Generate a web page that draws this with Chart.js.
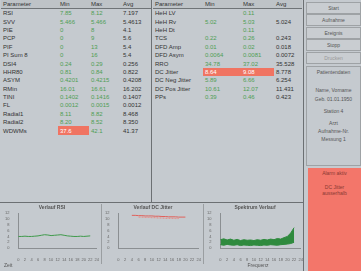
<!DOCTYPE html>
<html>
<head>
<meta charset="utf-8">
<script src="https://cdn.jsdelivr.net/npm/chart.js@4"></script>
<style>
  body { margin: 0; background: #c5cacf; font-family: "Liberation Sans", Arial, sans-serif; }
  #wrap { position: relative; width: 361px; height: 271px; overflow: hidden; background: #c5cacf; }
  .tbl { position: absolute; top: 0; border-collapse: collapse; font-size: 6px; color: #333; table-layout: fixed; }
  .tbl th { font-weight: normal; text-align: left; height: 8px; padding: 0 2px; border-bottom: 1px solid #6f7477; background: #bec3c7; }
  .tbl td { height: 8.4px; padding: 0 2px; line-height: 8px; white-space: nowrap; overflow: hidden; }
  .g { color: #4f9e55; }
  .r { background: #f07462; color: #fff; }
  .vl { position: absolute; background: #6c7073; }
  .btn { position: absolute; left: 306px; width: 53px; height: 10px; border: 1px solid #9ea2a5; background: #c9cdd1; font-size: 5px; color: #555; text-align: center; line-height: 10px; }
  .box { position: absolute; font-size: 5px; color: #555; text-align: center; }
  .cv { position: absolute; }
</style>
</head>
<body>
<div id="wrap">
  <table class="tbl" id="t1" style="left:1px; width:150px">
    <colgroup><col style="width:57px"><col style="width:31px"><col style="width:32px"><col style="width:30px"></colgroup>
  </table>
  <table class="tbl" id="t2" style="left:153px; width:149px">
    <colgroup><col style="width:50px"><col style="width:38px"><col style="width:33px"><col style="width:28px"></colgroup>
  </table>

  <div class="vl" style="left:151px; top:0; width:1px; height:202px"></div>
  <div class="vl" style="left:303px; top:0; width:1px; height:271px"></div>
  <div class="vl" style="left:0; top:202px; width:304px; height:1px"></div>
  <div class="vl" style="left:101px; top:204px; width:1px; height:60px; background:#9a9ea1"></div>
  <div class="vl" style="left:203px; top:204px; width:1px; height:60px; background:#9a9ea1"></div>

  <div class="btn" style="top:2px">Start</div>
  <div class="btn" style="top:14px">Aufnahme</div>
  <div class="btn" style="top:27px">Ereignis</div>
  <div class="btn" style="top:39px">Stopp</div>
  <div class="btn" style="top:52px; color:#999">Drucken</div>

  <div class="box" style="left:306px; top:66px; width:53px; height:98px; border:1px solid #9ea2a5">
    <div style="margin-top:2px">Patientendaten</div>
    <div style="margin-top:12px">Name, Vorname</div>
    <div style="margin-top:3px">Geb. 01.01.1950</div>
    <div style="margin-top:6px">Station 4</div>
    <div style="margin-top:6px">Arzt</div>
    <div style="margin-top:2px">Aufnahme-Nr.</div>
    <div style="margin-top:2px">Messung 1</div>
  </div>
  <div class="box" style="left:308px; top:168px; width:53px; height:103px; background:#f3766a; color:#8a3a33">
    <div style="margin-top:2px">Alarm aktiv</div>
    <div style="margin-top:8px">DC Jitter</div>
    <div>ausserhalb</div>
  </div>

  <canvas id="c1" class="cv" style="left:4px; top:204px"></canvas>
  <canvas id="c2" class="cv" style="left:104px; top:204px"></canvas>
  <canvas id="c3" class="cv" style="left:206px; top:204px"></canvas>

  <div class="box" style="left:4px; top:262px; width:20px; text-align:left">Zeit</div>
  <div class="box" style="left:238px; top:262px; width:40px">Frequenz</div>
</div>

<script>
// linke Tabelle
const params1 = ['RSI', 'SVV', 'PIE', 'PCP', 'PIF', 'PI Sum 8', 'DSI4', 'HHR80', 'ASYM', 'RMin', 'TINI', 'FL', 'Radial1', 'Radial2', 'WDWMs'];
const min1 = ['7.85', '5.466', '0', '0', '0', '0', '0.24', '0.81', '0.4201', '16.01', '0.1402', '0.0012', '8.11', '8.20', '37.6'];
const max1 = ['8.12', '5.466', '8', '9', '13', '16', '0.29', '0.84', '0.4215', '16.61', '0.1416', '0.0015', '8.82', '8.52', '42.1'];
const avg1 = ['7.197', '5.4613', '4.1', '5.6', '5.4', '5.4', '0.256', '0.822', '0.4208', '16.202', '0.1407', '0.0012', '8.468', '8.350', '41.37'];
const red1 = [[14, 'min']];

// rechte Tabelle
const params2 = ['HeH LV', 'HeH Rv', 'HeH Dt', 'TCS', 'DFD Amp', 'DFD Asym', 'RRO', 'DC Jitter', 'DC Neg Jitter', 'DC Pos Jitter', 'PPs'];
const min2 = ['', '5.02', '', '0.22', '0.01', '0.0064', '34.78', '8.64', '5.89', '10.61', '0.39'];
const max2 = ['0.11', '5.03', '0.11', '0.26', '0.02', '0.0081', '37.02', '9.08', '6.66', '12.07', '0.46'];
const avg2 = ['', '5.024', '', '0.243', '0.018', '0.0072', '35.528', '8.778', '6.254', '11.431', '0.423'];
const red2 = [[7, 'min'], [7, 'max']];

// Verlaufskurven
const labels1 = ['0', '', '2', '', '4', '', '6', '', '8', '', '10', '', '12', '', '14', '', '16', '', '18', '', '20', '', '22', '', '24'];
const trend1 = [4.0, 4.0, 4.1, 4.0, 4.0, 4.1, 4.2, 4.4, 4.6, 4.5, 4.3, 4.4, 4.5, 4.6, 4.4, 4.2, 4.1, 4.0, 4.0, 4.1, 4.0, 4.1, 4.2, null, null];

const labels2 = ['0', '', '2', '', '4', '', '6', '', '8', '', '10', '', '12', '', '14', '', '16', '', '18', '', '20', '', '22', '', '24'];
const trend2a = [null, null, null, null, 11.2, 11.2, 11.1, 11.1, 11.0, 11.0, 11.0, 10.9, 10.9, 10.8, 10.8, 10.7, 10.7, 10.7, 10.6, 10.6, 10.6, null, null, null, null];
const trend2b = [null, null, null, null, null, null, 10.6, 10.6, 10.5, 10.5, 10.4, 10.4, 10.3, 10.3, 10.2, 10.2, 10.2, 10.1, 10.1, null, null, null, null, null, null];

const labels3 = ['0', '', '2', '', '4', '', '6', '', '8', '', '10', '', '12', '', '14', '', '16', '', '18', '', '20', '', '22', '', '24'];
const band3hi = [2.9, 3.2, 2.8, 3.1, 2.7, 3.0, 2.6, 2.9, 2.7, 2.8, 2.6, 2.9, 2.7, 3.0, 2.8, 3.1, 2.9, 3.3, 3.1, 3.6, 4.0, 5.2, 7.0, null, null];
const band3lo = [1.2, 1.0, 1.3, 1.1, 1.0, 1.2, 0.9, 1.1, 1.0, 0.9, 1.1, 1.0, 0.9, 1.1, 1.0, 1.2, 1.1, 1.0, 1.2, 1.3, 1.4, 1.6, 2.0, null, null];

function fillTable(id, params, mins, maxs, avgs, reds) {
    const t = document.getElementById(id);
    let html = '<tr><th>Parameter</th><th>Min</th><th>Max</th><th>Avg</th></tr>';
    params.forEach((p, i) => {
        const isRed = col => reds.some(r => r[0] === i && r[1] === col);
        html += `<tr><td>${p}</td>` +
            `<td class="${isRed('min') ? 'r' : 'g'}">${mins[i]}</td>` +
            `<td class="${isRed('max') ? 'r' : 'g'}">${maxs[i]}</td>` +
            `<td>${avgs[i]}</td></tr>`;
    });
    t.insertAdjacentHTML('beforeend', html);
}
fillTable('t1', params1, min1, max1, avg1, red1);
fillTable('t2', params2, min2, max2, avg2, red2);

Chart.defaults.font.family = 'Liberation Sans';
Chart.defaults.animation = false;

function smallOpts(title, yMax, yStep) {
    return {
        responsive: false,
        plugins: {
            legend: { display: false },
            title: { display: true, text: title, font: { size: 5 }, color: '#555', padding: { top: 1, bottom: 2 } },
            tooltip: { enabled: false }
        },
        elements: { point: { radius: 0 }, line: { borderWidth: 1, tension: 0 } },
        scales: {
            x: {
                grid: { display: false },
                border: { color: '#8b8f92' },
                ticks: { font: { size: 4 }, color: '#666', maxRotation: 0, autoSkip: false, padding: 1 }
            },
            y: {
                min: 0, max: yMax,
                grid: { display: false },
                border: { color: '#8b8f92' },
                ticks: { stepSize: yStep, autoSkip: false, font: { size: 4 }, color: '#666', padding: 1 }
            }
        }
    };
}

function makeCanvas(id, w, h) {
    const c = document.getElementById(id);
    c.width = w; c.height = h;
    return c;
}

new Chart(makeCanvas('c1', 96, 59), {
    type: 'line',
    data: { labels: labels1, datasets: [{ data: trend1, borderColor: '#3f9a4b' }] },
    options: smallOpts('Verlauf RSI', 12, 2)
});

new Chart(makeCanvas('c2', 98, 59), {
    type: 'line',
    data: {
        labels: labels2,
        datasets: [
            { data: trend2a, borderColor: '#e0605a' },
            { data: trend2b, borderColor: '#e88a84', borderDash: [2, 1] }
        ]
    },
    options: smallOpts('Verlauf DC Jitter', 12, 2)
});

new Chart(makeCanvas('c3', 98, 59), {
    type: 'line',
    data: {
        labels: labels3,
        datasets: [
            { data: band3hi, borderColor: '#2f8a3e', backgroundColor: '#2f8a3e', fill: '+1' },
            { data: band3lo, borderColor: '#2f8a3e', fill: false }
        ]
    },
    options: smallOpts('Spektrum Verlauf', 12, 2)
});
</script>
</body>
</html>
